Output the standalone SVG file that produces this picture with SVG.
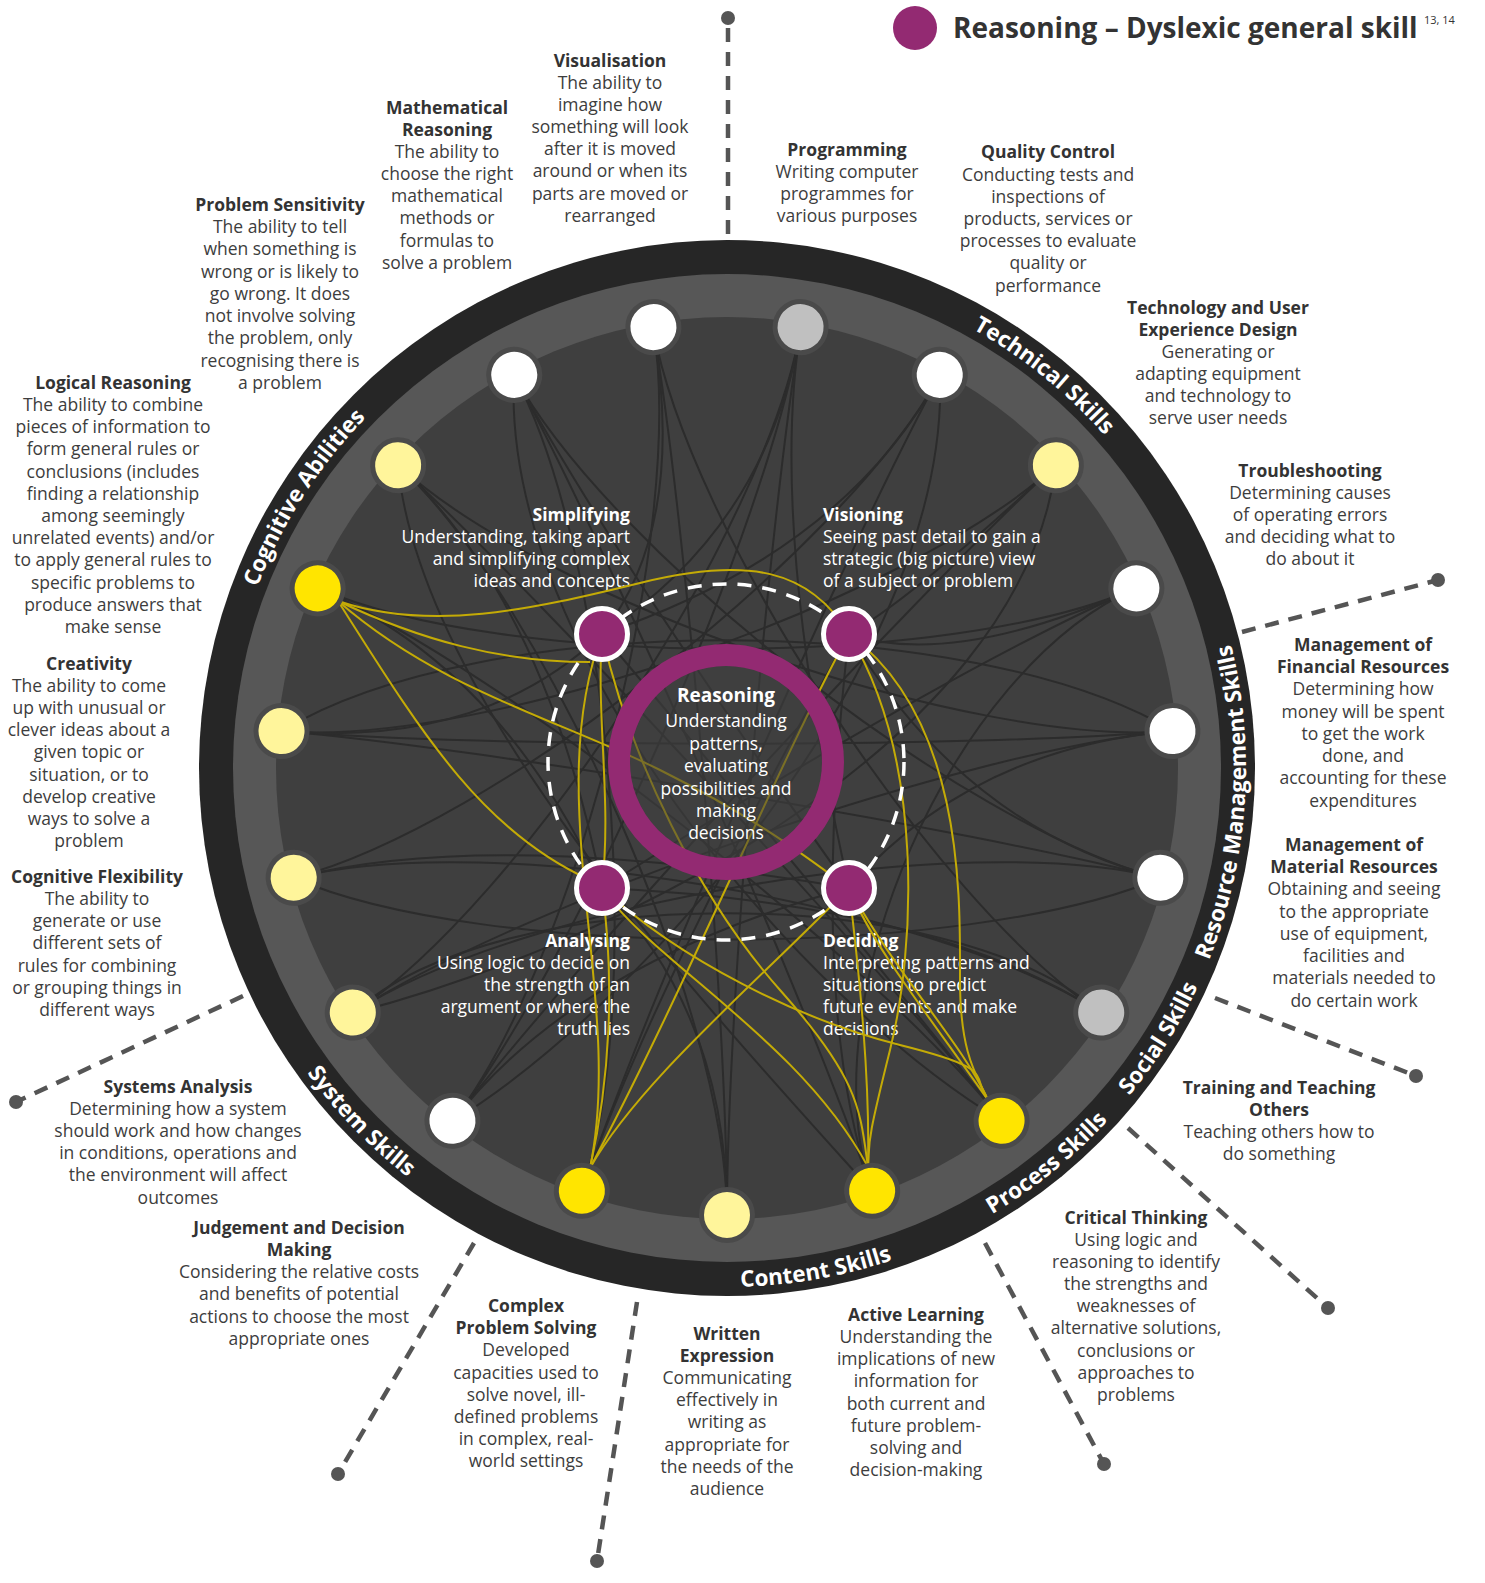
<svg xmlns="http://www.w3.org/2000/svg" width="1485" height="1583" viewBox="0 0 1485 1583">
<style>
.bg{fill:#ffffff}
.lbl{font-family:"Open Sans","DejaVu Sans",sans-serif;font-size:17.5px;fill:#3d3d3d;text-anchor:middle}
.lbl .h{font-weight:bold;fill:#333333}
.in{font-family:"Open Sans","DejaVu Sans",sans-serif;font-size:17.5px;fill:#ffffff}
.in .h{font-weight:bold}
.ring{font-family:"Open Sans","DejaVu Sans",sans-serif;font-size:22.5px;font-weight:bold;fill:#ffffff;text-anchor:middle}
.dk{fill:none;stroke:#2c2c2c;stroke-width:2}
.yl{fill:none;stroke:#c4ab06;stroke-width:2}
.spoke{stroke:#555555;stroke-width:4.5;stroke-dasharray:14 10;fill:none}
.dot{fill:#555555}
.on{stroke:#4a4a4a;stroke-width:5}
.w{fill:#ffffff}.g{fill:#c0c0c0}.ly{fill:#fff59b}.y{fill:#ffe500}
.pn{fill:#932a72;stroke:#ffffff;stroke-width:5}
</style>
<defs>
<path id="cw" d="M727,265 A503,503 0 1,1 727,1271 A503,503 0 1,1 727,265"/>
<path id="ccw" d="M727,1287 A519,519 0 1,0 727,249 A519,519 0 1,0 727,1287"/>
</defs>
<rect class="bg" x="0" y="0" width="1485" height="1583"/>

<g id="title">
<circle cx="915" cy="28" r="22" fill="#932a72"/>
<text x="953" y="38" font-family="'Open Sans','DejaVu Sans',sans-serif" font-size="28" font-weight="bold" fill="#333333">Reasoning – Dyslexic general skill</text>
<text x="1424" y="24" font-family="'Open Sans','DejaVu Sans',sans-serif" font-size="11" fill="#333333">13, 14</text>
</g>

<g id="connectors">
<line class="spoke" x1="728" y1="234" x2="728" y2="18"/>
<line class="spoke" x1="1242" y1="632" x2="1438" y2="580"/>
<line class="spoke" x1="1215" y1="998" x2="1416" y2="1076"/>
<line class="spoke" x1="1128" y1="1128" x2="1328" y2="1308"/>
<line class="spoke" x1="985" y1="1243" x2="1104" y2="1464"/>
<line class="spoke" x1="637" y1="1302" x2="597" y2="1561"/>
<line class="spoke" x1="474" y1="1243" x2="338" y2="1474"/>
<line class="spoke" x1="243" y1="996" x2="16" y2="1102"/>
<circle class="dot" cx="728" cy="18" r="7"/>
<circle class="dot" cx="1438" cy="580" r="7"/>
<circle class="dot" cx="1416" cy="1076" r="7"/>
<circle class="dot" cx="1328" cy="1308" r="7"/>
<circle class="dot" cx="1104" cy="1464" r="7"/>
<circle class="dot" cx="597" cy="1561" r="7"/>
<circle class="dot" cx="338" cy="1474" r="7"/>
<circle class="dot" cx="16" cy="1102" r="7"/>
</g>

<g id="wheel">
<circle cx="727" cy="768" r="528" fill="#262626"/>
<circle cx="727" cy="768" r="494" fill="#575757"/>
<circle cx="727" cy="768" r="451" fill="#3f3f3f"/>
<text class="ring"><textPath href="#cw" startOffset="342">Technical Skills</textPath></text>
<text class="ring"><textPath href="#cw" startOffset="2657">Cognitive Abilities</textPath></text>
<text class="ring"><textPath href="#ccw" startOffset="779">Resource Management Skills</textPath></text>
<text class="ring"><textPath href="#ccw" startOffset="525">Social Skills</textPath></text>
<text class="ring"><textPath href="#ccw" startOffset="353">Process Skills</textPath></text>
<text class="ring"><textPath href="#ccw" startOffset="91">Content Skills</textPath></text>
<text class="ring"><textPath href="#ccw" startOffset="2844">System Skills</textPath></text>
</g>

<g id="background-links">
<path class="dk" d="M801,327 C768,526 727,1014 727,1215"/>
<path class="dk" d="M801,327 C768,526 521,903 353,1013"/>
<path class="dk" d="M801,327 Q768,526 602,634"/>
<path class="dk" d="M801,327 Q768,526 849,888"/>
<path class="dk" d="M940,375 C844,552 489,828 294,878"/>
<path class="dk" d="M940,375 Q844,552 602,634"/>
<path class="dk" d="M940,375 C844,552 647,1001 582,1191"/>
<path class="dk" d="M940,375 C950,650 650,1000 453,1121"/>
<path class="dk" d="M1056,465 C908,602 482,748 282,731"/>
<path class="dk" d="M1056,465 Q908,602 849,634"/>
<path class="dk" d="M1056,465 C908,602 576,962 453,1121"/>
<path class="dk" d="M1056,465 C1020,750 600,950 353,1013"/>
<path class="dk" d="M1136,588 C952,669 502,669 318,588"/>
<path class="dk" d="M1136,588 Q952,669 602,888"/>
<path class="dk" d="M1136,588 C952,669 807,1001 872,1191"/>
<path class="dk" d="M1136,588 Q952,669 849,634"/>
<path class="dk" d="M1173,731 C972,748 546,602 398,465"/>
<path class="dk" d="M1173,731 C972,748 521,903 353,1013"/>
<path class="dk" d="M1173,731 Q972,748 849,888"/>
<path class="dk" d="M282,731 C480,610 970,610 1173,731"/>
<path class="dk" d="M1160,878 C965,828 610,552 514,375"/>
<path class="dk" d="M1160,878 C965,828 482,748 282,731"/>
<path class="dk" d="M1160,878 Q965,828 849,634"/>
<path class="dk" d="M294,878 C480,960 970,960 1160,878"/>
<path class="dk" d="M1101,1013 C933,903 687,526 653,327"/>
<path class="dk" d="M1101,1013 C933,903 489,828 294,878"/>
<path class="dk" d="M1101,1013 Q933,903 602,888"/>
<path class="dk" d="M353,1013 C500,880 950,880 1101,1013"/>
<path class="dk" d="M1002,1121 C878,962 546,602 398,465"/>
<path class="dk" d="M1002,1121 Q878,962 602,634"/>
<path class="dk" d="M514,375 C500,650 800,1000 1002,1121"/>
<path class="dk" d="M872,1191 C807,1001 610,552 514,375"/>
<path class="dk" d="M872,1191 Q807,1001 849,634"/>
<path class="dk" d="M398,465 C420,700 700,1000 872,1191"/>
<path class="dk" d="M727,1215 C727,1014 687,526 653,327"/>
<path class="dk" d="M727,1215 Q727,1014 602,888"/>
<path class="dk" d="M582,1191 Q647,1001 849,634"/>
<path class="dk" d="M453,1121 C576,962 768,526 801,327"/>
<path class="dk" d="M453,1121 Q576,962 849,888"/>
<path class="dk" d="M353,1013 C521,903 965,828 1160,878"/>
<path class="dk" d="M294,878 Q489,828 849,888"/>
<path class="dk" d="M282,731 C482,748 972,748 1173,731"/>
<path class="dk" d="M282,731 Q482,748 602,634"/>
<path class="dk" d="M318,588 C502,669 878,962 1002,1121"/>
<path class="dk" d="M318,588 Q502,669 602,888"/>
<path class="dk" d="M398,465 Q546,602 602,888"/>
<path class="dk" d="M398,465 C546,602 727,1014 727,1215"/>
<path class="dk" d="M514,375 C610,552 647,1001 582,1191"/>
<path class="dk" d="M514,375 Q610,552 849,888"/>
<path class="dk" d="M653,327 C687,526 576,962 453,1121"/>
<path class="dk" d="M653,327 Q687,526 602,634"/>
</g>

<g id="inner-labels">
<text class="in" text-anchor="end"><tspan class="h" x="630" y="521">Simplifying</tspan><tspan x="630" y="543">Understanding, taking apart</tspan><tspan x="630" y="565">and simplifying complex</tspan><tspan x="630" y="587">ideas and concepts</tspan></text>
<text class="in" text-anchor="start"><tspan class="h" x="823" y="521">Visioning</tspan><tspan x="823" y="543">Seeing past detail to gain a</tspan><tspan x="823" y="565">strategic (big picture) view</tspan><tspan x="823" y="587">of a subject or problem</tspan></text>
<text class="in" text-anchor="end"><tspan class="h" x="630" y="947">Analysing</tspan><tspan x="630" y="969">Using logic to decide on</tspan><tspan x="630" y="991">the strength of an</tspan><tspan x="630" y="1013">argument or where the</tspan><tspan x="630" y="1035">truth lies</tspan></text>
<text class="in" text-anchor="start"><tspan class="h" x="823" y="947">Deciding</tspan><tspan x="823" y="969">Interpreting patterns and</tspan><tspan x="823" y="991">situations to predict</tspan><tspan x="823" y="1013">future events and make</tspan><tspan x="823" y="1035">decisions</tspan></text>
</g>

<g id="strong-links">
<path class="yl" d="M338,601 C430,632 530,610 640,583 S810,570 849,634"/>
<path class="yl" d="M338,601 C420,640 500,662 590,662"/>
<path class="yl" d="M338,601 C440,690 560,720 660,770 S810,860 849,888"/>
<path class="yl" d="M338,601 C420,730 480,830 590,880"/>
<path class="yl" d="M602,634 C540,800 625,1000 590,1168"/>
<path class="yl" d="M602,634 C596,720 612,800 602,888"/>
<path class="yl" d="M602,634 C630,760 700,900 780,990 S860,1110 868,1167"/>
<path class="yl" d="M602,888 C615,980 610,1080 590,1168"/>
<path class="yl" d="M602,888 C650,960 800,1040 868,1167"/>
<path class="yl" d="M602,888 C680,960 800,1020 900,1045 S970,1075 988,1100"/>
<path class="yl" d="M849,634 C780,760 680,1000 590,1168"/>
<path class="yl" d="M849,888 C760,980 640,1080 590,1168"/>
<path class="yl" d="M849,634 C925,760 915,950 890,1050 S870,1140 868,1167"/>
<path class="yl" d="M849,634 C965,720 960,900 960,980 S980,1080 988,1100"/>
<path class="yl" d="M849,888 C860,980 870,1080 868,1167"/>
<path class="yl" d="M849,888 C900,980 960,1040 988,1100"/>
<path class="yl" d="M849,888 C875,950 925,1010 988,1100"/>
</g>

<g id="node-reasoning">
<circle cx="726" cy="762" r="96" fill="#3f3f3f" fill-opacity="0.55"/>
<circle cx="726" cy="762" r="107" fill="none" stroke="#932a72" stroke-width="22"/>
<text class="in" text-anchor="middle"><tspan class="h" x="726" y="702" font-size="19">Reasoning</tspan><tspan x="726" y="727">Understanding</tspan><tspan x="726" y="750">patterns,</tspan><tspan x="726" y="772">evaluating</tspan><tspan x="726" y="795">possibilities and</tspan><tspan x="726" y="817">making</tspan><tspan x="726" y="839">decisions</tspan></text>
</g>

<circle cx="726" cy="762" r="178" fill="none" stroke="#ffffff" stroke-width="3.5" stroke-dasharray="14 11"/>

<g id="node-simplifying"><circle class="pn" cx="602" cy="634" r="25.5"/></g>
<g id="node-visioning"><circle class="pn" cx="849" cy="634" r="25.5"/></g>
<g id="node-analysing"><circle class="pn" cx="602" cy="888" r="25.5"/></g>
<g id="node-deciding"><circle class="pn" cx="849" cy="888" r="25.5"/></g>

<g id="node-programming"><circle class="on g" cx="727" cy="321" r="25.5" transform="rotate(9.474 727 768)"/><text class="lbl"><tspan class="h" x="847" y="156">Programming</tspan><tspan x="847" y="178">Writing computer</tspan><tspan x="847" y="200">programmes for</tspan><tspan x="847" y="222">various purposes</tspan></text></g>
<g id="node-quality-control"><circle class="on w" cx="727" cy="321" r="25.5" transform="rotate(28.421 727 768)"/><text class="lbl"><tspan class="h" x="1048" y="158">Quality Control</tspan><tspan x="1048" y="181">Conducting tests and</tspan><tspan x="1048" y="203">inspections of</tspan><tspan x="1048" y="225">products, services or</tspan><tspan x="1048" y="247">processes to evaluate</tspan><tspan x="1048" y="269">quality or</tspan><tspan x="1048" y="292">performance</tspan></text></g>
<g id="node-tech-ux"><circle class="on ly" cx="727" cy="321" r="25.5" transform="rotate(47.368 727 768)"/><text class="lbl"><tspan class="h" x="1218" y="314">Technology and User</tspan><tspan class="h" x="1218" y="336">Experience Design</tspan><tspan x="1218" y="358">Generating or</tspan><tspan x="1218" y="380">adapting equipment</tspan><tspan x="1218" y="402">and technology to</tspan><tspan x="1218" y="424">serve user needs</tspan></text></g>
<g id="node-troubleshooting"><circle class="on w" cx="727" cy="321" r="25.5" transform="rotate(66.316 727 768)"/><text class="lbl"><tspan class="h" x="1310" y="477">Troubleshooting</tspan><tspan x="1310" y="499">Determining causes</tspan><tspan x="1310" y="521">of operating errors</tspan><tspan x="1310" y="543">and deciding what to</tspan><tspan x="1310" y="565">do about it</tspan></text></g>
<g id="node-financial"><circle class="on w" cx="727" cy="321" r="25.5" transform="rotate(85.263 727 768)"/><text class="lbl"><tspan class="h" x="1363" y="651">Management of</tspan><tspan class="h" x="1363" y="673">Financial Resources</tspan><tspan x="1363" y="695">Determining how</tspan><tspan x="1363" y="718">money will be spent</tspan><tspan x="1363" y="740">to get the work</tspan><tspan x="1363" y="762">done, and</tspan><tspan x="1363" y="784">accounting for these</tspan><tspan x="1363" y="807">expenditures</tspan></text></g>
<g id="node-material"><circle class="on w" cx="727" cy="321" r="25.5" transform="rotate(104.211 727 768)"/><text class="lbl"><tspan class="h" x="1354" y="851">Management of</tspan><tspan class="h" x="1354" y="873">Material Resources</tspan><tspan x="1354" y="895">Obtaining and seeing</tspan><tspan x="1354" y="918">to the appropriate</tspan><tspan x="1354" y="940">use of equipment,</tspan><tspan x="1354" y="962">facilities and</tspan><tspan x="1354" y="984">materials needed to</tspan><tspan x="1354" y="1007">do certain work</tspan></text></g>
<g id="node-training"><circle class="on g" cx="727" cy="321" r="25.5" transform="rotate(123.158 727 768)"/><text class="lbl"><tspan class="h" x="1279" y="1094">Training and Teaching</tspan><tspan class="h" x="1279" y="1116">Others</tspan><tspan x="1279" y="1138">Teaching others how to</tspan><tspan x="1279" y="1160">do something</tspan></text></g>
<g id="node-critical-thinking"><circle class="on y" cx="727" cy="321" r="25.5" transform="rotate(142.105 727 768)"/><text class="lbl"><tspan class="h" x="1136" y="1224">Critical Thinking</tspan><tspan x="1136" y="1246">Using logic and</tspan><tspan x="1136" y="1268">reasoning to identify</tspan><tspan x="1136" y="1290">the strengths and</tspan><tspan x="1136" y="1312">weaknesses of</tspan><tspan x="1136" y="1334">alternative solutions,</tspan><tspan x="1136" y="1357">conclusions or</tspan><tspan x="1136" y="1379">approaches to</tspan><tspan x="1136" y="1401">problems</tspan></text></g>
<g id="node-active-learning"><circle class="on y" cx="727" cy="321" r="25.5" transform="rotate(161.053 727 768)"/><text class="lbl"><tspan class="h" x="916" y="1321">Active Learning</tspan><tspan x="916" y="1343">Understanding the</tspan><tspan x="916" y="1365">implications of new</tspan><tspan x="916" y="1387">information for</tspan><tspan x="916" y="1410">both current and</tspan><tspan x="916" y="1432">future problem-</tspan><tspan x="916" y="1454">solving and</tspan><tspan x="916" y="1476">decision-making</tspan></text></g>
<g id="node-written-expression"><circle class="on ly" cx="727" cy="321" r="25.5" transform="rotate(180 727 768)"/><text class="lbl"><tspan class="h" x="727" y="1340">Written</tspan><tspan class="h" x="727" y="1362">Expression</tspan><tspan x="727" y="1384">Communicating</tspan><tspan x="727" y="1406">effectively in</tspan><tspan x="727" y="1428">writing as</tspan><tspan x="727" y="1451">appropriate for</tspan><tspan x="727" y="1473">the needs of the</tspan><tspan x="727" y="1495">audience</tspan></text></g>
<g id="node-complex-problem-solving"><circle class="on y" cx="727" cy="321" r="25.5" transform="rotate(198.947 727 768)"/><text class="lbl"><tspan class="h" x="526" y="1312">Complex</tspan><tspan class="h" x="526" y="1334">Problem Solving</tspan><tspan x="526" y="1356">Developed</tspan><tspan x="526" y="1379">capacities used to</tspan><tspan x="526" y="1401">solve novel, ill-</tspan><tspan x="526" y="1423">defined problems</tspan><tspan x="526" y="1445">in complex, real-</tspan><tspan x="526" y="1467">world settings</tspan></text></g>
<g id="node-judgement"><circle class="on w" cx="727" cy="321" r="25.5" transform="rotate(217.895 727 768)"/><text class="lbl"><tspan class="h" x="299" y="1234">Judgement and Decision</tspan><tspan class="h" x="299" y="1256">Making</tspan><tspan x="299" y="1278">Considering the relative costs</tspan><tspan x="299" y="1300">and benefits of potential</tspan><tspan x="299" y="1323">actions to choose the most</tspan><tspan x="299" y="1345">appropriate ones</tspan></text></g>
<g id="node-systems-analysis"><circle class="on ly" cx="727" cy="321" r="25.5" transform="rotate(236.842 727 768)"/><text class="lbl"><tspan class="h" x="178" y="1093">Systems Analysis</tspan><tspan x="178" y="1115">Determining how a system</tspan><tspan x="178" y="1137">should work and how changes</tspan><tspan x="178" y="1159">in conditions, operations and</tspan><tspan x="178" y="1181">the environment will affect</tspan><tspan x="178" y="1204">outcomes</tspan></text></g>
<g id="node-cognitive-flexibility"><circle class="on ly" cx="727" cy="321" r="25.5" transform="rotate(255.789 727 768)"/><text class="lbl"><tspan class="h" x="97" y="883">Cognitive Flexibility</tspan><tspan x="97" y="905">The ability to</tspan><tspan x="97" y="927">generate or use</tspan><tspan x="97" y="949">different sets of</tspan><tspan x="97" y="972">rules for combining</tspan><tspan x="97" y="994">or grouping things in</tspan><tspan x="97" y="1016">different ways</tspan></text></g>
<g id="node-creativity"><circle class="on ly" cx="727" cy="321" r="25.5" transform="rotate(274.737 727 768)"/><text class="lbl"><tspan class="h" x="89" y="670">Creativity</tspan><tspan x="89" y="692">The ability to come</tspan><tspan x="89" y="714">up with unusual or</tspan><tspan x="89" y="736">clever ideas about a</tspan><tspan x="89" y="758">given topic or</tspan><tspan x="89" y="781">situation, or to</tspan><tspan x="89" y="803">develop creative</tspan><tspan x="89" y="825">ways to solve a</tspan><tspan x="89" y="847">problem</tspan></text></g>
<g id="node-logical-reasoning"><circle class="on y" cx="727" cy="321" r="25.5" transform="rotate(293.684 727 768)"/><text class="lbl"><tspan class="h" x="113" y="389">Logical Reasoning</tspan><tspan x="113" y="411">The ability to combine</tspan><tspan x="113" y="433">pieces of information to</tspan><tspan x="113" y="455">form general rules or</tspan><tspan x="113" y="478">conclusions (includes</tspan><tspan x="113" y="500">finding a relationship</tspan><tspan x="113" y="522">among seemingly</tspan><tspan x="113" y="544">unrelated events) and/or</tspan><tspan x="113" y="566">to apply general rules to</tspan><tspan x="113" y="589">specific problems to</tspan><tspan x="113" y="611">produce answers that</tspan><tspan x="113" y="633">make sense</tspan></text></g>
<g id="node-problem-sensitivity"><circle class="on ly" cx="727" cy="321" r="25.5" transform="rotate(312.632 727 768)"/><text class="lbl"><tspan class="h" x="280" y="211">Problem Sensitivity</tspan><tspan x="280" y="233">The ability to tell</tspan><tspan x="280" y="255">when something is</tspan><tspan x="280" y="278">wrong or is likely to</tspan><tspan x="280" y="300">go wrong. It does</tspan><tspan x="280" y="322">not involve solving</tspan><tspan x="280" y="344">the problem, only</tspan><tspan x="280" y="367">recognising there is</tspan><tspan x="280" y="389">a problem</tspan></text></g>
<g id="node-mathematical-reasoning"><circle class="on w" cx="727" cy="321" r="25.5" transform="rotate(331.579 727 768)"/><text class="lbl"><tspan class="h" x="447" y="114">Mathematical</tspan><tspan class="h" x="447" y="136">Reasoning</tspan><tspan x="447" y="158">The ability to</tspan><tspan x="447" y="180">choose the right</tspan><tspan x="447" y="202">mathematical</tspan><tspan x="447" y="224">methods or</tspan><tspan x="447" y="247">formulas to</tspan><tspan x="447" y="269">solve a problem</tspan></text></g>
<g id="node-visualisation"><circle class="on w" cx="727" cy="321" r="25.5" transform="rotate(350.526 727 768)"/><text class="lbl"><tspan class="h" x="610" y="67">Visualisation</tspan><tspan x="610" y="89">The ability to</tspan><tspan x="610" y="111">imagine how</tspan><tspan x="610" y="133">something will look</tspan><tspan x="610" y="155">after it is moved</tspan><tspan x="610" y="177">around or when its</tspan><tspan x="610" y="200">parts are moved or</tspan><tspan x="610" y="222">rearranged</tspan></text></g>
</svg>
